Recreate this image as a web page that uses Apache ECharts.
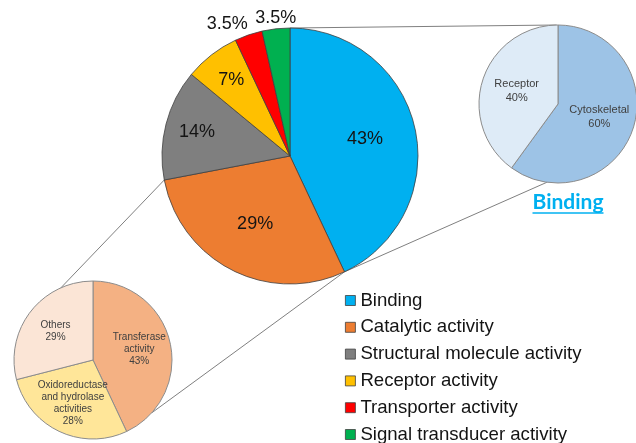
<!DOCTYPE html>
<html>
<head>
<meta charset="utf-8">
<script src="https://cdn.jsdelivr.net/npm/echarts@6/dist/echarts.min.js"></script>
<style>
html, body { margin: 0; padding: 0; background: #fff; }
#chart { width: 636px; height: 443px; }
</style>
</head>
<body>
<div id="chart"></div>
<script>
// main pie - molecular function
var mainNames = ['Binding', 'Catalytic activity', 'Structural molecule activity', 'Receptor activity', 'Transporter activity', 'Signal transducer activity'];
var mainValues = [43, 29, 14, 7, 3.5, 3.5];
var mainColors = ['#00b0f0', '#ed7d31', '#7f7f7f', '#ffc000', '#ff0000', '#00b050'];

// breakdown of Binding
var bindNames = ['Cytoskeletal', 'Receptor'];
var bindValues = [60, 40];
var bindColors = ['#9dc3e6', '#deebf7'];

// breakdown of Catalytic activity
var catNames = ['Transferase\nactivity', 'Oxidoreductase\nand hydrolase\nactivities', 'Others'];
var catValues = [43, 28, 29];
var catColors = ['#f4b183', '#ffe699', '#fbe5d6'];

// layout
var MAIN = { cx: 290, cy: 156, r: 128 };
var BIND = { cx: 558, cy: 104, r: 79 };
var CAT = { cx: 93, cy: 360, r: 79 };
var FONT = 'Liberation Sans';

function sum(arr) { return arr.reduce(function (a, b) { return a + b; }, 0); }

// angle (deg, counter clockwise from 3 o'clock) where slice i ends
function sliceEnd(values, i) {
    var s = 0;
    for (var j = 0; j <= i; j++) s += values[j];
    return 90 - s / sum(values) * 360;
}

function onCircle(g, deg) {
    var a = deg * Math.PI / 180;
    return [g.cx + g.r * Math.cos(a), g.cy - g.r * Math.sin(a)];
}

// put labels along the middle of each slice, f = fraction of radius
function radialLabels(g, values, place) {
    var total = sum(values);
    return function (p) {
        var before = 0;
        for (var i = 0; i < p.dataIndex; i++) before += values[i];
        var mid = (90 - (before + values[p.dataIndex] / 2) / total * 360) * Math.PI / 180;
        var dx = Math.cos(mid), dy = -Math.sin(mid);
        var f = place(values[p.dataIndex]);
        var out = { x: g.cx + dx * g.r * f, y: g.cy + dy * g.r * f };
        if (f > 1) {
            out.align = dx < -0.3 ? 'right' : (dx > 0.3 ? 'left' : 'center');
            out.verticalAlign = dy < 0 ? 'bottom' : 'top';
        }
        return out;
    };
}

function pieData(names, values, colors) {
    return names.map(function (n, i) {
        return { name: n, value: values[i], itemStyle: { color: colors[i] } };
    });
}

var lineStyle = { stroke: '#808080', lineWidth: 1 };
function connector(a, b) {
    return { type: 'line', z: 1, shape: { x1: a[0], y1: a[1], x2: b[0], y2: b[1] }, style: lineStyle };
}

var bindingTop = onCircle(MAIN, 90);
var bindingEnd = onCircle(MAIN, sliceEnd(mainValues, 0));
var catalyticEnd = onCircle(MAIN, sliceEnd(mainValues, 1));

// underline width for the "Binding" caption
var titleFont = 'bold 21px Lato';
var ctx = document.createElement('canvas').getContext('2d');
ctx.font = titleFont;
var titleW = ctx.measureText('Binding').width;
var titleX = 568, titleY = 202;

var chart = echarts.init(document.getElementById('chart'));
chart.setOption({
    animation: false,
    backgroundColor: '#fff',
    legend: {
        data: mainNames,
        orient: 'vertical',
        left: 345,
        top: 291,
        height: 170,
        padding: 0,
        itemWidth: 10,
        itemHeight: 10,
        itemGap: 7.8,
        icon: 'rect',
        selectedMode: false,
        itemStyle: { borderColor: '#404040', borderWidth: 0.8 },
        textStyle: { fontFamily: FONT, fontSize: 18.6, color: '#141414', lineHeight: 18 }
    },
    graphic: [
        connector(bindingTop, onCircle(BIND, 91)),
        connector(bindingEnd, onCircle(BIND, -98)),
        connector(catalyticEnd, onCircle(CAT, 114)),
        connector(bindingEnd, onCircle(CAT, -42)),
        {
            type: 'text', z: 5, x: titleX, y: titleY,
            style: { text: 'Binding', font: titleFont, fill: '#00b0f0', align: 'center', verticalAlign: 'middle' }
        },
        {
            type: 'line', z: 5,
            shape: { x1: titleX - titleW / 2, y1: titleY + 11, x2: titleX + titleW / 2, y2: titleY + 11 },
            style: { stroke: '#00b0f0', lineWidth: 1.5 }
        }
    ],
    series: [
        {
            type: 'pie',
            center: [MAIN.cx, MAIN.cy],
            radius: MAIN.r,
            avoidLabelOverlap: false,
            emphasis: { disabled: true },
            itemStyle: { borderColor: '#404040', borderWidth: 0.8 },
            label: {
                show: true, position: 'inside', formatter: '{c}%',
                fontFamily: FONT, fontSize: 18, color: '#141414'
            },
            labelLine: { show: false },
            labelLayout: radialLabels(MAIN, mainValues, function (v) {
                return v >= 20 ? 0.6 : (v >= 5 ? 0.75 : 1.016);
            }),
            data: pieData(mainNames, mainValues, mainColors)
        },
        {
            type: 'pie',
            center: [BIND.cx, BIND.cy],
            radius: BIND.r,
            avoidLabelOverlap: false,
            emphasis: { disabled: true },
            itemStyle: { borderColor: '#8c8c8c', borderWidth: 1 },
            label: {
                show: true, position: 'inside', formatter: '{b}\n{c}%',
                fontFamily: FONT, fontSize: 11, lineHeight: 14, color: '#404040'
            },
            labelLine: { show: false },
            labelLayout: radialLabels(BIND, bindValues, function () { return 0.55; }),
            data: pieData(bindNames, bindValues, bindColors)
        },
        {
            type: 'pie',
            center: [CAT.cx, CAT.cy],
            radius: CAT.r,
            avoidLabelOverlap: false,
            emphasis: { disabled: true },
            itemStyle: { borderColor: '#8c8c8c', borderWidth: 1 },
            label: {
                show: true, position: 'inside', formatter: '{b}\n{c}%',
                fontFamily: FONT, fontSize: 10, lineHeight: 12, color: '#404040'
            },
            labelLine: { show: false },
            labelLayout: radialLabels(CAT, catValues, function () { return 0.6; }),
            data: pieData(catNames, catValues, catColors)
        }
    ]
});
</script>
</body>
</html>
